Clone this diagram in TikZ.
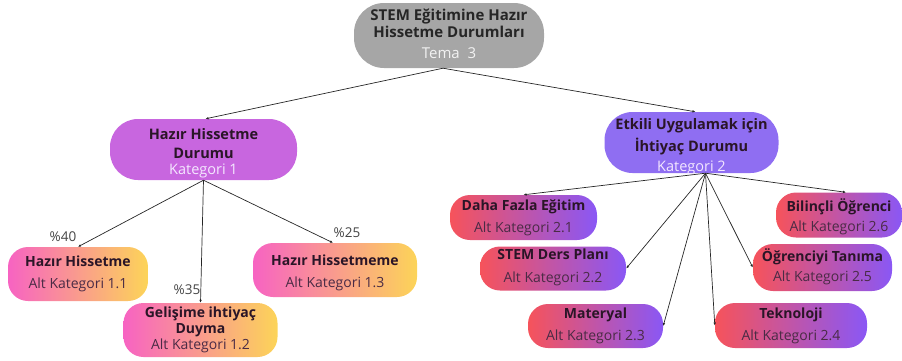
\documentclass[tikz,border=0pt]{standalone}
\usepackage{fontspec}
\setmainfont{Open Sans}
\usetikzlibrary{arrows.meta}

\definecolor{rootgray}{HTML}{A6A6A6}
\definecolor{catone}{HTML}{C866DF}
\definecolor{cattwo}{HTML}{8F6EF2}
\definecolor{pinkL}{HTML}{F763C2}
\definecolor{yellowR}{HTML}{FCD458}
\definecolor{redL}{HTML}{F6535B}
\definecolor{violetR}{HTML}{8A57F5}
\definecolor{titletext}{HTML}{2A1527}
\definecolor{subtext}{HTML}{4A2B45}
\definecolor{lighttext}{HTML}{F4E8FF}
\definecolor{pcttext}{HTML}{444444}

% text styles inside the boxes
\newcommand\nodetitle{\bfseries\color{titletext}}
\newcommand\nodesub{\mdseries\color{subtext}}

\begin{document}
\begin{tikzpicture}[x=1pt,y=-1pt,
  box/.style={rounded corners=#1, inner sep=0pt, draw=none},
  box/.default=20pt,
  sz/.style 2 args={minimum width=#1pt, minimum height=#2pt},
  warm/.style={box, left color=pinkL, right color=yellowR},
  cool/.style={box, left color=redL, right color=violetR},
  txt/.style={align=center, inner sep=0pt, font=\fontsize{14}{16}\selectfont},
  cattxt/.style={txt, font=\fontsize{14.5}{16}\selectfont},
  link/.style={draw=black!85, line width=0.7pt, -{Latex[length=3pt,width=2.6pt]}},
  pct/.style={text=pcttext, font=\fontsize{13.5}{16}\selectfont, inner sep=0pt}
]
\useasboundingbox (0,0) rectangle (902,360);

% top level
\node[box=30pt, fill=rootgray, sz={190}{65}] (root) at (449,35.5) {};
\node[txt, font=\fontsize{15}{17}\selectfont, text=black!85] (root-t) at ([yshift=1.5pt]root.center)
  {\bfseries STEM Eğitimine Hazır\\[0pt]
   \bfseries Hissetme Durumları\\[4pt]
   \mdseries\color{white!95!black}Tema\ \ 3};

% categories
\node[box=28pt, fill=catone, sz={187}{61}] (cat1) at (203.5,149.5) {};
\node[cattxt] (cat1-t) at ([yshift=-4pt]cat1.center)
  {\nodetitle Hazır Hissetme\\[3pt]
   \nodetitle Durumu\\[0pt]
   \color{lighttext}Kategori 1};
\node[box=28pt, fill=cattwo, sz={174}{61}] (cat2) at (691.5,142.5) {};
\node[cattxt] (cat2-t) at ([yshift=-4.5pt]cat2.center)
  {\nodetitle Etkili Uygulamak için\\[4pt]
   \nodetitle İhtiyaç Durumu\\[4pt]
   \color{lighttext}Kategori 2};

% sub categories of category 1
\node[warm, sz={140}{54}] (c11) at (78,274) {};
\node[txt] (c11-t) at (c11.center)
  {\nodetitle Hazır Hissetme\\[6pt]
   \nodesub Alt Kategori 1.1};
\node[warm, sz={154}{54}] (c12) at (200.5,330) {};
\node[txt] (c12-t) at (c12.center)
  {\nodetitle Gelişime ihtiyaç\\[0pt]
   \nodetitle Duyma\\[0pt]
   \nodesub Alt Kategori 1.2};
\node[warm, sz={164}{54}] (c13) at (335,270) {};
\node[txt] (c13-t) at ([yshift=-3pt]c13.center)
  {\nodetitle Hazır Hissetmeme\\[6pt]
   \nodesub Alt Kategori 1.3};

% sub categories of category 2
\node[cool, sz={147}{45}] (d21) at (523.5,217.5) {};
\node[txt] (d21-t) at (d21.center)
  {\nodetitle Daha Fazla Eğitim\\[6pt]
   \nodesub Alt Kategori 2.1};
\node[cool, sz={146}{44}] (d22) at (553,268.5) {};
\node[txt] (d22-t) at ([yshift=1.5pt]d22.center)
  {\nodetitle STEM Ders Planı\\[7pt]
   \nodesub Alt Kategori 2.2};
\node[cool, sz={135}{44}] (d23) at (595.5,326) {};
\node[txt] (d23-t) at (d23.center)
  {\nodetitle Materyal\\[6pt]
   \nodesub Alt Kategori 2.3};
\node[cool, sz={152}{45}] (d24) at (791,325.5) {};
\node[txt] (d24-t) at (d24.center)
  {\nodetitle Teknoloji\\[6pt]
   \nodesub Alt Kategori 2.4};
\node[cool, sz={139}{47}] (d25) at (822.5,267.5) {};
\node[txt] (d25-t) at ([yshift=1pt]d25.center)
  {\nodetitle Öğrenciyi Tanıma\\[4pt]
   \nodesub Alt Kategori 2.5};
\node[cool, sz={126}{45}] (d26) at (839,215) {};
\node[txt] (d26-t) at ([yshift=-2pt]d26.center)
  {\nodetitle Bilinçli Öğrenci\\[4pt]
   \nodesub Alt Kategori 2.6};

% percentages
\node[pct] (p40) at (63,237) {\%40};
\node[pct] (p35) at (187,290) {\%35};
\node[pct] (p25) at (347,233) {\%25};

% connectors
\coordinate (rootfoot) at ([xshift=-6pt]root.south);
\coordinate (cat2foot) at ([xshift=14pt]cat2.south);
\draw[link] (rootfoot) -- ([xshift=2pt]cat1.north);
\draw[link] (rootfoot) -- ([xshift=4pt]cat2.north);

\draw[link] (cat1.south) -- (c11.north);
\draw[link] (cat1.south) -- (c12.north);
\draw[link] (cat1.south) -- ([xshift=-2pt]c13.north);

\draw[link] (cat2foot) -- (d21.north);
\draw[link] (cat2foot) -- (d22.east);
\draw[link] (cat2foot) -- (d23.east);
\draw[link] (cat2foot) -- (d24.west);
\draw[link] (cat2foot) -- (d25.west);
\draw[link] (cat2foot) -- ([xshift=7pt]d26.north);
\end{tikzpicture}
\end{document}
